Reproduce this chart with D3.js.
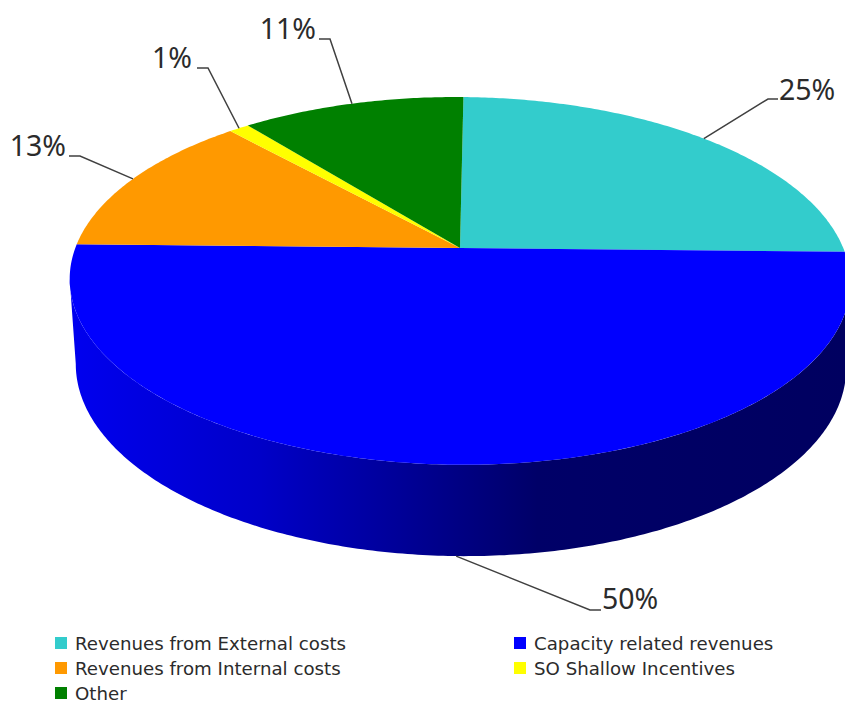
<!DOCTYPE html>
<html>
<head>
<meta charset="utf-8">
<script src="https://cdn.jsdelivr.net/npm/d3@7"></script>
<style>
  html, body { margin: 0; padding: 0; background: #fff; }
  svg { display: block; }
  text { font-family: "Noto Sans", sans-serif; fill: #2b2b2b; }
  .legend text { font-family: "DejaVu Sans", sans-serif; }
</style>
</head>
<body>
<svg id="chart" width="845" height="704"></svg>
<script>
// Revenue shares, in percent
const categories = [
  "Revenues from External costs",
  "Capacity related revenues",
  "Revenues from Internal costs",
  "SO Shallow Incentives",
  "Other"
];
const shares = [25, 50, 13, 1, 11];
const sliceColors = ["#33cccc", "#0000ff", "#ff9900", "#ffff00", "#008000"];

// Where each percentage label sits, and the elbow of its leader line
const labelAnchors = [
  { x: 779, y: 100, elbow: [768, 99], end: [778, 99], anchor: "start" },
  { x: 602, y: 609, elbow: [590, 610], end: [601, 610], anchor: "start" },
  { x: 66, y: 156, elbow: [80, 156], end: [69, 156], anchor: "end" },
  { x: 192, y: 68, elbow: [208, 68], end: [197, 68], anchor: "end" },
  { x: 316, y: 39, elbow: [330, 39], end: [319, 39], anchor: "end" }
];

const svg = d3.select("#chart");

// Perspective projection of the unit disc onto the page, with a slight roll
const firstSliceAngle = 0.6 * Math.PI / 180;
const roll = 0.005;
const topPlane = { cx: 460, cy: 248, a: 384, b: 178, p: -0.179 };
const floorPlane = { cx: 461, cy: 332, a: 379, b: 184, p: -0.179 };

function project(plane, angle) {
  const u = Math.sin(angle), v = -Math.cos(angle);
  const w = 1 + plane.p * v;
  const dx = plane.a * u / w;
  return [plane.cx + dx, plane.cy + plane.b * v / w + roll * dx];
}

function rim(plane, a0, a1) {
  const n = Math.max(2, Math.ceil(Math.abs(a1 - a0) * 90));
  return d3.range(n + 1).map(i => project(plane, a0 + (a1 - a0) * i / n));
}

const arcs = d3.pie().sort(null).value(d => d)
  .startAngle(firstSliceAngle)
  .endAngle(2 * Math.PI + firstSliceAngle)(shares);

const line = d3.line();

// Side wall below the front half of the disc, joined at the widest points of both rims
const defs = svg.append("defs");
const wallGradient = defs.append("linearGradient")
  .attr("id", "wallShade")
  .attr("gradientUnits", "userSpaceOnUse")
  .attr("x1", 76).attr("x2", 845).attr("y1", 0).attr("y2", 0);
[[0, "#0000ee"], [0.24, "#0000c8"], [0.42, "#000098"], [0.6, "#000068"], [1, "#000060"]]
  .forEach(([o, c]) => wallGradient.append("stop").attr("offset", o).attr("stop-color", c));

const wallFrom = Math.PI / 2 + 0.18, wallTo = 3 * Math.PI / 2 - 0.18;
svg.append("path")
  .attr("d", line(rim(topPlane, wallFrom, wallTo).concat(rim(floorPlane, wallTo, wallFrom))) + "Z")
  .attr("fill", "url(#wallShade)");

// Top face, one wedge per slice
svg.selectAll("path.slice")
  .data(arcs)
  .join("path")
  .attr("class", "slice")
  .attr("fill", (d, i) => sliceColors[i])
  .attr("d", d => line([[topPlane.cx, topPlane.cy]].concat(rim(topPlane, d.startAngle, d.endAngle))) + "Z");

// Leader lines from each slice's mid-angle on the rim
svg.selectAll("path.leader")
  .data(arcs)
  .join("path")
  .attr("class", "leader")
  .attr("fill", "none")
  .attr("stroke", "#404040")
  .attr("stroke-width", 1.5)
  .attr("d", (d, i) => {
    const mid = (d.startAngle + d.endAngle) / 2;
    // the capacity wedge's leader hangs from the lower edge of the wall
    const origin = i === 1 ? project(floorPlane, mid) : project(topPlane, mid);
    return line([origin, labelAnchors[i].elbow, labelAnchors[i].end]);
  });

svg.selectAll("text.pct")
  .data(shares)
  .join("text")
  .attr("class", "pct")
  .attr("x", (d, i) => labelAnchors[i].x)
  .attr("y", (d, i) => labelAnchors[i].y)
  .attr("text-anchor", (d, i) => labelAnchors[i].anchor)
  .attr("font-size", 28.5)
  .text(d => d + "%");

// Legend, two columns read across
const legendX = d3.scaleOrdinal().domain([0, 1]).range([55, 514]);
const legendY = d3.scalePoint().domain([0, 1, 2]).range([650, 700]);
const legend = svg.selectAll("g.legend")
  .data(categories)
  .join("g")
  .attr("class", "legend")
  .attr("transform", (d, i) => `translate(${legendX(i % 2)},${legendY(Math.floor(i / 2))})`);
legend.append("rect")
  .attr("x", 0).attr("y", -13).attr("width", 12).attr("height", 12)
  .attr("fill", (d, i) => sliceColors[i]);
legend.append("text")
  .attr("x", 20)
  .attr("y", 0)
  .attr("font-size", 18.2)
  .text(d => d);
</script>
</body>
</html>
